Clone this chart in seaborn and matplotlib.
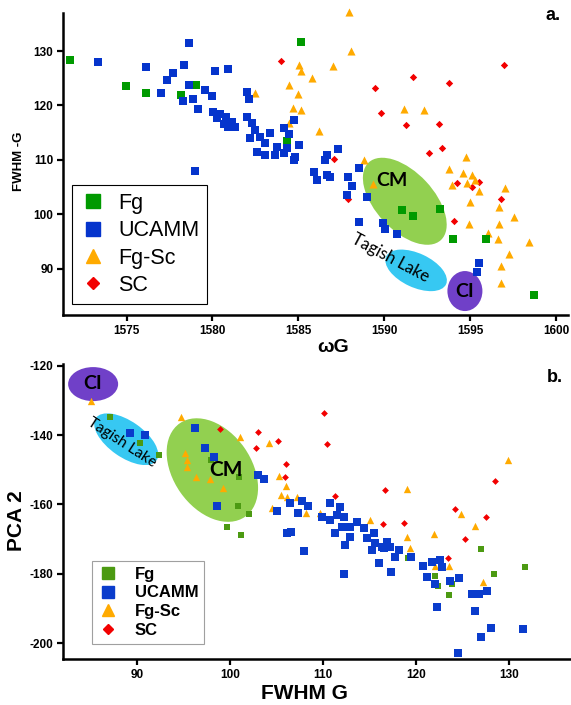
import numpy as np
import pandas as pd
import matplotlib
matplotlib.use('Agg')
import matplotlib.pyplot as plt
import matplotlib.transforms as mtransforms
from matplotlib.patches import Ellipse
from matplotlib.lines import Line2D
import seaborn as sns

# %% dados painel a (wG x FWHM-G)
a_fg_x = [1571.69, 1574.94, 1576.15, 1578.16, 1579.07, 1585.16, 1584.34, 1591.01, 1591.67, 1593.27, 1593.99, 1595.91, 1598.74]
a_fg_y = [128.29, 123.51, 122.22, 121.97, 123.81, 131.71, 113.46, 100.77, 99.72, 100.96, 95.44, 95.39, 85.09]

a_ucamm_x = [1573.35, 1576.16, 1576.98, 1577.33, 1577.73, 1578.37, 1578.66, 1578.62, 1578.27, 1578.88, 1579.17, 1579.01,
             1579.58, 1579.98, 1580.17, 1580.91, 1582.02, 1582.11, 1580.06, 1580.47, 1580.81, 1581.16, 1580.70, 1580.29,
             1581.34, 1580.93, 1582.02, 1582.31, 1582.50, 1582.21, 1582.79, 1583.37, 1583.08, 1582.60, 1583.08, 1583.76,
             1583.66, 1584.15, 1584.44, 1584.77, 1584.34, 1585.02, 1584.83, 1584.15, 1586.67, 1586.57, 1587.34, 1585.89,
             1586.09, 1586.67, 1586.86, 1587.92, 1588.12, 1588.51, 1587.83, 1588.99, 1589.92, 1590.06, 1590.77, 1588.52,
             1595.52, 1595.39, 1584.73]
a_ucamm_y = [128.03, 127.00, 122.22, 124.61, 125.96, 127.48, 131.53, 123.70, 120.75, 121.12, 119.39, 107.94,
             122.83, 121.67, 126.38, 126.69, 122.46, 121.18, 118.79, 118.42, 117.87, 116.95, 116.58, 117.68,
             116.03, 116.03, 117.81, 116.71, 115.48, 113.95, 114.25, 114.87, 113.03, 111.49, 110.88, 112.41,
             110.88, 115.79, 114.74, 117.32, 112.11, 112.72, 110.57, 111.19, 110.88, 109.96, 111.93, 107.81,
             106.29, 107.21, 106.89, 106.89, 105.18, 108.44, 103.53, 103.22, 98.33, 97.22, 96.31, 98.62,
             91.08, 89.43, 109.96]

a_fgsc_x = [1582.50, 1587.98, 1588.08, 1587.02, 1585.06, 1585.16, 1585.80, 1584.48, 1584.96, 1584.69, 1585.16, 1586.22,
            1584.44, 1591.18, 1592.34, 1588.80, 1594.77, 1593.78, 1594.61, 1595.10, 1593.94, 1594.81, 1595.29, 1595.54,
            1597.02, 1595.02, 1596.70, 1597.58, 1594.92, 1596.70, 1596.03, 1596.65, 1598.45, 1597.28, 1596.80, 1596.78,
            1589.34]
a_fgsc_y = [122.22, 137.22, 130.06, 127.30, 127.43, 126.32, 124.98, 123.75, 122.04, 119.58, 119.15, 115.29,
            116.71, 119.34, 119.15, 109.96, 110.57, 108.25, 107.52, 107.21, 105.37, 105.68, 106.29, 104.26,
            104.87, 102.30, 101.27, 99.54, 98.19, 98.14, 96.60, 95.39, 94.94, 92.63, 90.53, 87.41,
            105.55]

a_sc_x = [1583.99, 1596.99, 1591.65, 1593.78, 1589.49, 1589.81, 1591.26, 1593.20, 1592.60, 1593.35, 1594.24, 1595.12,
          1595.54, 1596.82, 1594.07, 1587.09, 1587.92]
a_sc_y = [128.16, 127.43, 125.17, 124.06, 123.29, 118.55, 116.40, 116.53, 111.19, 112.17, 105.79, 105.06,
          105.97, 102.74, 98.84, 110.09, 102.74]

# %% dados painel b (FWHM G x PCA 2)
b_fg_x = [87.13, 90.28, 92.32, 97.95, 100.91, 100.81, 102.06, 99.67, 101.20, 119.07, 121.97, 122.29, 123.84, 123.47,
          126.98, 128.30, 131.63]
b_fg_y = [-134.72, -142.22, -145.77, -147.21, -152.03, -160.40, -162.89, -166.64, -168.95, -175.41, -180.69, -183.58,
          -183.00, -186.26, -172.81, -180.12, -178.10]

b_ucamm_x = [89.28, 90.89, 96.19, 97.26, 98.30, 102.98, 103.60, 98.60, 105.04, 106.47,
             106.11, 106.54, 107.97, 107.25, 107.72, 108.32, 109.87, 110.76, 110.76, 111.48,
             111.84, 112.19, 111.30, 112.02, 112.84, 113.63, 114.34, 112.91, 112.37, 114.70,
             115.41, 115.60, 115.24, 116.32, 116.85, 116.49, 117.21, 118.10, 117.74, 119.43,
             115.95, 117.26, 112.27, 120.72, 121.69, 122.58, 122.76, 121.15, 122.04, 123.65,
             124.56, 125.96, 126.77, 127.57, 122.22, 126.34, 128.06, 126.95, 131.49, 124.48]
b_ucamm_y = [-139.34, -140.00, -138.07, -143.84, -146.44, -151.60, -152.55, -160.35, -161.88, -159.54,
             -168.37, -167.91, -173.33, -162.42, -158.96, -160.49, -163.58, -159.71, -164.53, -163.09,
             -160.69, -163.58, -168.37, -166.46, -166.46, -165.02, -166.93, -169.35, -171.75, -169.81,
             -168.37, -171.26, -173.19, -172.24, -170.79, -172.70, -172.24, -173.19, -175.12, -175.07,
             -177.03, -179.39, -180.12, -177.81, -176.59, -176.07, -178.01, -180.98, -183.00, -182.05,
             -181.27, -185.97, -185.97, -184.94, -189.49, -190.71, -195.61, -198.21, -195.99, -203.00]

b_fgsc_x = [85.06, 94.73, 101.10, 104.21, 95.19, 95.37, 95.37, 96.37, 97.80, 99.27, 105.23, 106.04, 105.45, 106.09,
            107.19, 104.50, 108.18, 109.61, 115.06, 118.98, 129.85, 124.75, 126.31, 121.93, 118.98, 119.36, 123.47,
            122.01, 127.20]
b_fgsc_y = [-130.10, -134.72, -140.49, -142.25, -145.28, -147.21, -149.15, -152.03, -152.55, -155.38, -151.83,
            -154.72, -157.17, -157.75, -157.98, -161.15, -162.42, -162.42, -164.53, -155.67, -147.21, -162.86,
            -166.26, -168.63, -169.52, -172.53, -177.75, -177.72, -182.42]

b_sc_x = [98.90, 103.01, 105.12, 102.79, 110.04, 110.37, 106.04, 105.95, 111.28, 116.60, 116.46, 118.63, 124.11,
          128.43, 127.52, 125.26, 123.36]
b_sc_y = [-138.27, -139.22, -141.59, -143.61, -133.71, -142.66, -148.28, -152.21, -157.61, -155.96, -165.77,
          -165.48, -161.30, -153.13, -163.72, -170.07, -175.56]

grupos = ['Fg', 'UCAMM', 'Fg-Sc', 'SC']
marcadores = {'Fg': 's', 'UCAMM': 's', 'Fg-Sc': '^', 'SC': 'D'}

# %% montando os dataframes
def monta_df(listas):
    partes = []
    for g, (xs, ys) in zip(grupos, listas):
        partes.append(pd.DataFrame({'x': xs, 'y': ys, 'grupo': g}))
    return pd.concat(partes, ignore_index=True)

df_a = monta_df([(a_fg_x, a_fg_y), (a_ucamm_x, a_ucamm_y), (a_fgsc_x, a_fgsc_y), (a_sc_x, a_sc_y)])
df_b = monta_df([(b_fg_x, b_fg_y), (b_ucamm_x, b_ucamm_y), (b_fgsc_x, b_fgsc_y), (b_sc_x, b_sc_y)])

cores_a = {'Fg': '#009a00', 'UCAMM': '#0534cc', 'Fg-Sc': '#ffaa00', 'SC': '#f20000'}
cores_b = {'Fg': '#4c9a12', 'UCAMM': '#0a3ccc', 'Fg-Sc': '#ffaa00', 'SC': '#f20000'}

sns.set_style('ticks')
plt.rcParams['font.family'] = ['Liberation Sans', 'DejaVu Sans']
plt.rcParams['axes.unicode_minus'] = False
plt.rcParams['text.color'] = 'black'
plt.rcParams['axes.labelcolor'] = 'black'

fig = plt.figure(figsize=(5.71, 7.05), dpi=100)
ax_a = fig.add_axes([0.1103, 0.5532, 0.8844, 0.4284])
ax_b = fig.add_axes([0.1109, 0.0648, 0.8874, 0.4189])


def elipse(ax, cx, cy, w, h, ang, cor):
    # tamanho em pixels, centro em coordenadas de dados
    tr = mtransforms.Affine2D() + mtransforms.ScaledTranslation(cx, cy, ax.transData)
    e = Ellipse((0, 0), w, h, angle=ang, transform=tr, facecolor=cor, edgecolor='none', zorder=1)
    ax.add_patch(e)


def desenha(ax, df, cores, tamanhos):
    for g in ['SC', 'Fg-Sc', 'Fg', 'UCAMM']:
        sub = df[df['grupo'] == g]
        sns.scatterplot(data=sub, x='x', y='y', ax=ax, color=cores[g], marker=marcadores[g],
                        s=tamanhos[g], linewidth=0, legend=False, zorder=3, clip_on=False)


def estilo(ax):
    sns.despine(ax=ax)
    for lado in ['left', 'bottom']:
        ax.spines[lado].set_linewidth(1.8)
        ax.spines[lado].set_color('black')
    ax.tick_params(axis='both', direction='out', length=4, width=1.6, colors='black',
                   labelsize=8.5, pad=3)
    for lab in ax.get_xticklabels() + ax.get_yticklabels():
        lab.set_fontweight('bold')


# %% painel a
elipse(ax_a, 1591.2, 102.4, 106, 58, -47, '#92d050')
elipse(ax_a, 1591.86, 89.7, 66, 34, -25, '#37c8f2')
elipse(ax_a, 1594.7, 85.9, 35, 40, 0, '#7040c8')
desenha(ax_a, df_a, cores_a, {'Fg': 30, 'UCAMM': 30, 'Fg-Sc': 34, 'SC': 14})
ax_a.set_xlim(1571.3, 1600.7)
ax_a.set_ylim(81.5, 137.0)
ax_a.set_xticks([1575, 1580, 1585, 1590, 1595, 1600])
ax_a.set_yticks([90, 100, 110, 120, 130])
estilo(ax_a)
ax_a.set_xlabel('ωG', fontsize=14, fontweight='bold')
ax_a.xaxis.set_label_coords(0.535, -0.08)
ax_a.set_ylabel('FWHM -G', fontsize=9.5, fontweight='bold')
ax_a.yaxis.set_label_coords(-0.075, 0.51)

ax_a.text(1590.47, 106.3, 'CM', fontsize=14, fontweight='bold', ha='center', va='center', zorder=4,
          family=['Lato', 'DejaVu Sans'])
ax_a.text(1590.35, 91.95, 'Tagish Lake', fontsize=12, rotation=-28, ha='center', va='center', zorder=4,
          family=['Lato', 'DejaVu Sans'], rotation_mode='anchor')
ax_a.text(1594.71, 85.9, 'CI', fontsize=14, fontweight='bold', ha='center', va='center', zorder=4,
          family=['Lato', 'DejaVu Sans'])

handles_a = [Line2D([], [], linestyle='none', marker=marcadores[g], color=cores_a[g],
                    markersize={'Fg': 10, 'UCAMM': 10, 'Fg-Sc': 10, 'SC': 6.5}[g], label=g) for g in grupos]
leg_a = ax_a.legend(handles=handles_a, loc='upper left', bbox_to_anchor=(0.018, 0.43), fontsize=15.5,
                    frameon=True, fancybox=False, edgecolor='black', framealpha=1, borderaxespad=0,
                    handlelength=1.2, handletextpad=0.6, labelspacing=0.3, borderpad=0.35)
leg_a.get_frame().set_linewidth(0.8)

# %% painel b
elipse(ax_b, 85.3, -125.3, 50, 34, 0, '#7040c8')
elipse(ax_b, 88.85, -141.2, 74, 36, -35, '#37c8f2')
elipse(ax_b, 98.1, -150.1, 114, 78, -55, '#92d050')
desenha(ax_b, df_b, cores_b, {'Fg': 24, 'UCAMM': 26, 'Fg-Sc': 28, 'SC': 12})
ax_b.set_xlim(82.1, 136.5)
ax_b.set_ylim(-204.7, -119.5)
ax_b.set_xticks([90, 100, 110, 120, 130])
ax_b.set_yticks([-200, -180, -160, -140, -120])
estilo(ax_b)
ax_b.set_xlabel('FWHM G', fontsize=15, fontweight='bold')
ax_b.xaxis.set_label_coords(0.475, -0.085)
ax_b.set_ylabel('PCA 2', fontsize=15, fontweight='bold')
ax_b.yaxis.set_label_coords(-0.074, 0.47)

ax_b.text(85.2, -125.0, 'CI', fontsize=14, fontweight='bold', ha='center', va='center', zorder=4,
          family=['Lato', 'DejaVu Sans'])
ax_b.text(88.42, -142.3, 'Tagish Lake', fontsize=11, rotation=-33, ha='center', va='center', zorder=4,
          family=['Lato', 'DejaVu Sans'], rotation_mode='anchor')
ax_b.text(99.6, -150.1, 'CM', fontsize=15, fontweight='bold', ha='center', va='center', zorder=4,
          family=['Lato', 'DejaVu Sans'])

handles_b = [Line2D([], [], linestyle='none', marker=marcadores[g], color=cores_b[g],
                    markersize={'Fg': 8, 'UCAMM': 8, 'Fg-Sc': 8, 'SC': 5}[g], label=g) for g in grupos]
leg_b = ax_b.legend(handles=handles_b, loc='upper left', bbox_to_anchor=(0.057, 0.333),
                    prop={'size': 12, 'weight': 'bold'}, frameon=True, fancybox=False, edgecolor='#a0a0a0',
                    framealpha=1, borderaxespad=0, handlelength=1.2, handletextpad=1.0,
                    labelspacing=0.22, borderpad=0.35)
leg_b.get_frame().set_linewidth(0.8)

# rotulos dos paineis
fig.text(553 / 571, 1 - 15 / 705, 'a.', fontsize=13, fontweight='bold', ha='center', va='center')
fig.text(555 / 571, 1 - 377 / 705, 'b.', fontsize=13, fontweight='bold', ha='center', va='center')

fig.savefig('out.png', dpi=100)
